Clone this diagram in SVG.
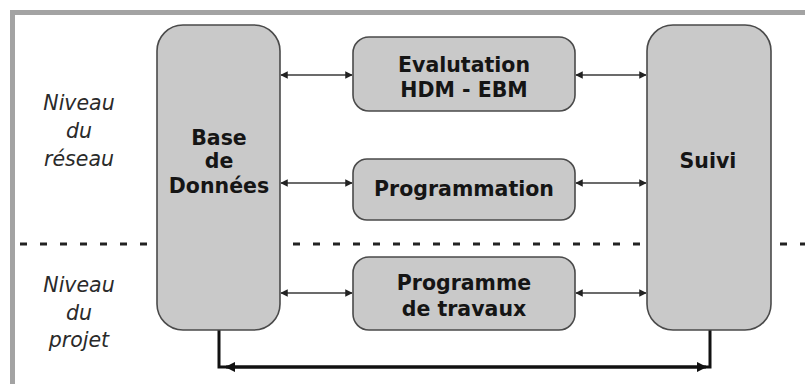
<svg xmlns="http://www.w3.org/2000/svg" width="805" height="384" viewBox="0 0 805 384">
<style>
.node{fill:#c9c9c9;stroke:#4a4a4a;stroke-width:1.6}
.t{font-family:"DejaVu Sans",Verdana,sans-serif;font-weight:bold;font-size:20.5px;fill:#151515;text-anchor:middle}
.lvl{font-family:"DejaVu Sans",Verdana,sans-serif;font-style:italic;font-size:20.5px;fill:#2a2a2a;text-anchor:middle}
.thin{stroke:#3a3a3a;stroke-width:1.5;fill:none;marker-start:url(#a);marker-end:url(#a)}
.thick{stroke:#111;stroke-width:3;fill:none}
</style>
<defs>
<marker id="a" viewBox="0 0 10 10" refX="9" refY="5" markerWidth="5" markerHeight="5" orient="auto-start-reverse" markerUnits="strokeWidth">
<path d="M0,0 L10,5 L0,10 z" fill="#222"/>
</marker>
<marker id="b" viewBox="0 0 10 10" refX="9" refY="5" markerWidth="3.5" markerHeight="3.5" orient="auto-start-reverse" markerUnits="strokeWidth">
<path d="M0,0 L10,5 L0,10 z" fill="#111"/>
</marker>
</defs>
<rect x="0" y="0" width="805" height="384" fill="#fff"/>
<rect x="12.5" y="12.5" width="820" height="400" fill="none" stroke="#a3a3a3" stroke-width="5"/>
<g id="separator">
<line x1="20" y1="244" x2="157" y2="244" stroke="#222" stroke-width="3" stroke-dasharray="7 13"/>
<line x1="293" y1="244" x2="645" y2="244" stroke="#222" stroke-width="3" stroke-dasharray="7 13"/>
<line x1="780" y1="244" x2="805" y2="244" stroke="#222" stroke-width="3" stroke-dasharray="7 13"/>
</g>
<g id="levels">
<text class="lvl" x="79" y="110">Niveau</text>
<text class="lvl" x="79" y="138">du</text>
<text class="lvl" x="79" y="166">réseau</text>
<text class="lvl" x="79" y="292">Niveau</text>
<text class="lvl" x="79" y="320">du</text>
<text class="lvl" x="79" y="347">projet</text>
</g>
<g id="connectors">
<line class="thin" x1="281" y1="75" x2="352" y2="75"/>
<line class="thin" x1="281" y1="183" x2="352" y2="183"/>
<line class="thin" x1="281" y1="293" x2="352" y2="293"/>
<line class="thin" x1="576" y1="75" x2="646" y2="75"/>
<line class="thin" x1="576" y1="183" x2="646" y2="183"/>
<line class="thin" x1="576" y1="293" x2="646" y2="293"/>
<path class="thick" d="M219,330 V367 H710 V330"/>
<line stroke="#111" stroke-width="3" x1="226" y1="367" x2="706" y2="367" marker-start="url(#b)" marker-end="url(#b)"/>
</g>
<g id="base">
<rect class="node" x="157" y="25" width="123" height="305" rx="26"/>
<text class="t" x="219" y="145">Base</text>
<text class="t" x="219" y="168">de</text>
<text class="t" x="219" y="193">Données</text>
</g>
<g id="suivi">
<rect class="node" x="647" y="25" width="124" height="305" rx="26"/>
<text class="t" x="708" y="168">Suivi</text>
</g>
<g id="evaluation">
<rect class="node" x="353" y="37" width="222" height="74" rx="16"/>
<text class="t" x="464" y="72">Evalutation</text>
<text class="t" x="464" y="97">HDM - EBM</text>
</g>
<g id="programmation">
<rect class="node" x="353" y="159" width="222" height="61" rx="14"/>
<text class="t" x="464" y="196">Programmation</text>
</g>
<g id="programme">
<rect class="node" x="353" y="257" width="222" height="73" rx="16"/>
<text class="t" x="464" y="290">Programme</text>
<text class="t" x="464" y="316">de travaux</text>
</g>
</svg>
